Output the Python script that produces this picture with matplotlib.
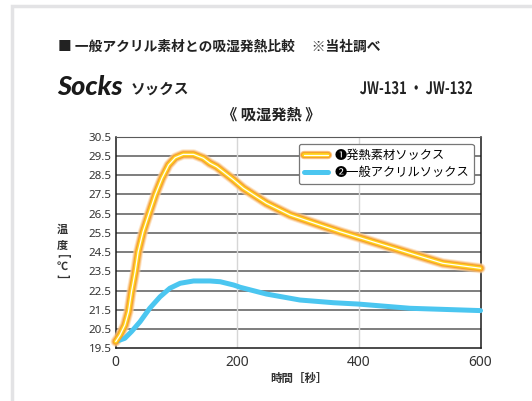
import matplotlib
matplotlib.use("Agg")
import matplotlib.pyplot as plt
from matplotlib.patches import Rectangle, PathPatch
from matplotlib.textpath import TextPath
from matplotlib.font_manager import FontProperties
from matplotlib.transforms import Affine2D, IdentityTransform
from matplotlib.legend_handler import HandlerTuple

plt.rcParams['font.family'] = ['Noto Sans CJK JP', 'DejaVu Sans']

# elapsed time [s] vs temperature [C]
heat_t = [0, 7, 15, 21, 26, 32, 37, 45, 54, 65, 76, 87, 98, 111, 128, 144, 155,
          166, 194, 210, 248, 287, 331, 369, 399, 440, 484, 538, 600]
heat_temp = [19.85, 20.19, 20.71, 21.4, 22.44, 23.48, 24.52, 25.56, 26.43, 27.47,
             28.34, 29.03, 29.41, 29.58, 29.58, 29.38, 29.12, 28.94, 28.25, 27.82,
             27.04, 26.43, 25.96, 25.56, 25.27, 24.87, 24.44, 23.92, 23.66]

acryl_t = [0, 15, 26, 40, 56, 73, 89, 106, 128, 155, 172, 194, 205, 248, 303,
           358, 399, 484, 600]
acryl_temp = [19.85, 20.02, 20.37, 20.88, 21.58, 22.18, 22.62, 22.88, 23.0, 23.0,
              22.96, 22.79, 22.67, 22.32, 22.01, 21.87, 21.8, 21.58, 21.46]

series_labels = ["❶発熱素材ソックス", "❷一般アクリルソックス"]
y_ticks = [19.5, 20.5, 21.5, 22.5, 23.5, 24.5, 25.5, 26.5, 27.5, 28.5, 29.5, 30.5]
x_ticks = [0, 200, 400, 600]

W, H = 532, 401
fig = plt.figure(figsize=(W / 100, H / 100), dpi=100)

# light panel border
fig.patches.append(Rectangle((12 / W, -0.1), 1.2, (H - 6) / H + 0.1,
                             transform=fig.transFigure, fill=False,
                             edgecolor="#e3e3e5", linewidth=2.5))

ax = fig.add_axes([115.7 / W, 1 - 348.3 / H, 364.8 / W, 211.6 / H])
ax.set_xlim(0, 600)
ax.set_ylim(19.5, 30.5)

for y in y_ticks[1:]:
    ax.axhline(y, color="#5a5a5a", lw=1.1, zorder=1)
for x in [200, 400]:
    ax.axvline(x, color="#d6d6d6", lw=1.0, zorder=1)

# heat-generating socks: glowing orange/yellow/white line
glow = dict(solid_capstyle="round", solid_joinstyle="round", clip_on=False)
lh = ax.plot(heat_t, heat_temp, color="#fcd3a0", lw=7.4, alpha=0.55, zorder=3, **glow)
l0, = ax.plot(heat_t, heat_temp, color="#f9b86a", lw=6.0, alpha=0.8, zorder=3, **glow)
l1, = ax.plot(heat_t, heat_temp, color="#f6a12a", lw=4.5, zorder=4, **glow)
l2, = ax.plot(heat_t, heat_temp, color="#ffd21a", lw=2.8, zorder=5, **glow)
l3, = ax.plot(heat_t, heat_temp, color="white", lw=0.9, zorder=6, **glow)

lb, = ax.plot(acryl_t, acryl_temp, color="#4bc6f0", lw=3.6, zorder=3, **glow)

for side in ["left", "bottom", "right"]:
    ax.spines[side].set_color("#1a1a1a")
    ax.spines[side].set_linewidth(1.1)
ax.spines["top"].set_color("#5a5a5a")

ax.set_yticks(y_ticks)
ax.set_yticklabels([f"{v:.1f}" for v in y_ticks])
ax.set_xticks(x_ticks)
ax.tick_params(axis="y", length=0, pad=3, labelsize=8.3, labelcolor="#333333")
ax.tick_params(axis="x", length=0, pad=5, labelsize=10, labelcolor="#333333")
for lab in ax.get_xticklabels() + ax.get_yticklabels():
    lab.set_family(["Noto Sans", "DejaVu Sans"])

leg = ax.legend([(l0, l1, l2, l3), lb], series_labels,
                handler_map={tuple: HandlerTuple(ndivide=1, pad=0)},
                loc="upper right", bbox_to_anchor=(0.982, 0.966), borderaxespad=0,
                fontsize=8.8, frameon=True, fancybox=True, handlelength=2.0,
                handletextpad=0.5, labelspacing=0.35, borderpad=0.4)
leg.get_frame().set_edgecolor("#777777")
leg.get_frame().set_linewidth(0.9)
leg.get_frame().set_alpha(1)

# vertical y-axis caption: 温度[℃]
lab_kw = dict(fontsize=8, fontweight="bold", color="#333333", ha="center", va="center")
fig.text(62.5 / W, 1 - 229 / H, "温", **lab_kw)
fig.text(62.5 / W, 1 - 245 / H, "度", **lab_kw)
fig.text(62.5 / W, 1 - 256 / H, "[", rotation=-90, **lab_kw)
fig.text(62.5 / W, 1 - 266 / H, "℃", **lab_kw)
fig.text(62.5 / W, 1 - 276 / H, "]", rotation=-90, **lab_kw)

fig.text(299 / W, 1 - 378 / H, "時間［秒］", fontsize=8.3, fontweight="bold",
         color="#333333", ha="center", va="center")

# header texts
fig.text(58 / W, 1 - 47 / H, "■ 一般アクリル素材との吸湿発熱比較　 ※当社調べ",
         fontsize=9.9, fontweight="bold", color="#222222", ha="left", va="center")
fig.text(57 / W, 1 - 95 / H, "Socks", fontsize=19.5, fontweight=900, style="italic",
         family=["Lato", "DejaVu Sans"], color="#1a1a1a", ha="left", va="baseline")
fig.text(131 / W, 1 - 89 / H, "ソックス", fontsize=10.5, fontweight="bold",
         color="#222222", ha="left", va="center")
fig.text(271 / W, 1 - 115 / H, "《 吸湿発熱 》", fontsize=11, fontweight="bold",
         color="#222222", ha="center", va="center")

# condensed model number, drawn as a horizontally squeezed text path
model_path = TextPath((0, 0), "JW-131 ・ JW-132", size=17,
                      prop=FontProperties(family="Noto Sans CJK JP", weight="bold"))
ext = model_path.get_extents()
sx = 112 / ext.width
sy = 12.5 / 12.4
tr = Affine2D().translate(-ext.x1, 0).scale(sx, sy).translate(472, H - 94)
fig.patches.append(PathPatch(tr.transform_path(model_path), transform=IdentityTransform(),
                             facecolor="#222222", edgecolor="none"))

fig.savefig("out.png", dpi=100)
